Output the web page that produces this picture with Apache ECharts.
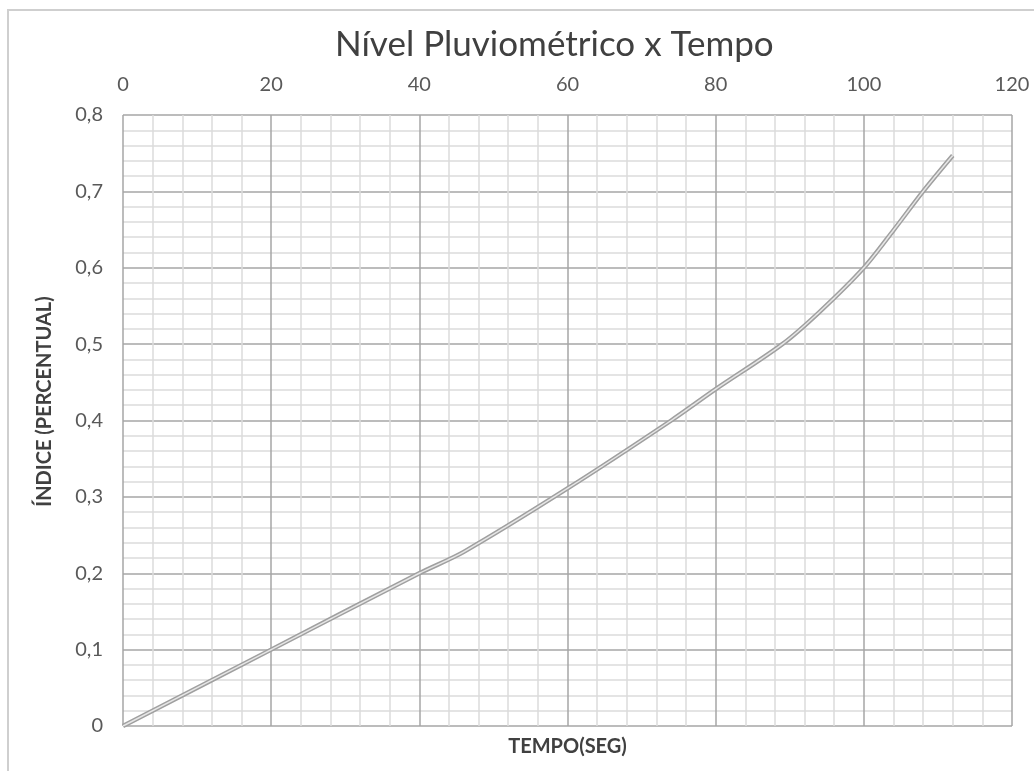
<!DOCTYPE html>
<html lang="pt">

<head>
  <meta charset="UTF-8">
  <title>Nível Pluviométrico x Tempo</title>
  <script src="https://cdn.jsdelivr.net/npm/echarts@6/dist/echarts.min.js"></script>
</head>

<body style="margin: 0; background: #fff">
  <div id="chart" style="width: 1034px; height: 771px"></div>

  <script>
    // tempo (seg) e índice
    let tempo = [0, 20, 40, 46, 60, 74, 80, 89, 94, 100, 104, 108, 112]
    let indice = [0, 0.1, 0.2, 0.228, 0.311, 0.4, 0.441, 0.5, 0.542, 0.6, 0.649, 0.7, 0.747]
    let xTicks = [0, 20, 40, 60, 80, 100, 120]
    let yTicks = [0, 0.1, 0.2, 0.3, 0.4, 0.5, 0.6, 0.7, 0.8]

    let pontos = tempo.map((t, i) => [t, indice[i]])
    let font = 'Lato, "Open Sans", sans-serif'

    let myChart = echarts.init(document.getElementById('chart'))
    let option = {
      animation: false,
      title: {
        text: 'Nível Pluviométrico x Tempo',
        left: 330,
        top: 22,
        textStyle: { fontFamily: font, fontSize: 35, fontWeight: 'normal', color: '#404040' }
      },
      graphic: [{
        type: 'rect',
        z: -10,
        shape: { x: 8, y: 10, width: 1100, height: 900 },
        style: { fill: 'none', stroke: '#cfcfcf', lineWidth: 2 }
      }],
      grid: { left: 123, right: 22, top: 115, bottom: 45 },
      xAxis: [{
        type: 'value',
        position: 'top',
        min: xTicks[0],
        max: xTicks[xTicks.length - 1],
        interval: 20,
        axisLine: { show: false },
        axisTick: { show: false },
        axisLabel: { margin: 20, fontFamily: font, fontSize: 20, color: '#595959' },
        splitLine: { lineStyle: { color: '#a6a6a6', width: 1.5 } },
        minorTick: { show: false, splitNumber: 5 },
        minorSplitLine: { show: true, lineStyle: { color: '#dcdcdc', width: 1.5 } }
      }, {
        type: 'value',
        position: 'bottom',
        min: xTicks[0],
        max: xTicks[xTicks.length - 1],
        axisLine: { show: false },
        axisTick: { show: false },
        axisLabel: { show: false },
        splitLine: { show: false },
        name: 'TEMPO(SEG)',
        nameLocation: 'middle',
        nameGap: 11,
        nameTextStyle: { fontFamily: font, fontSize: 20, fontWeight: 'bold', color: '#404040' }
      }],
      yAxis: {
        type: 'value',
        min: yTicks[0],
        max: yTicks[yTicks.length - 1],
        interval: 0.1,
        axisLine: { show: false },
        axisTick: { show: false },
        axisLabel: {
          margin: 20,
          fontFamily: font,
          fontSize: 20,
          color: '#595959',
          formatter: v => String(Math.round(v * 10) / 10).replace('.', ',')
        },
        splitLine: { lineStyle: { color: '#a6a6a6', width: 1.5 } },
        minorTick: { show: false, splitNumber: 5 },
        minorSplitLine: { show: true, lineStyle: { color: '#dcdcdc', width: 1.5 } },
        name: 'ÍNDICE (PERCENTUAL)',
        nameLocation: 'middle',
        nameGap: 68,
        nameTextStyle: { fontFamily: font, fontSize: 20, fontWeight: 'bold', color: '#404040', padding: [0, 0, 0, 38] }
      },
      series: [{
        // contorno da linha dupla
        type: 'line',
        data: pontos,
        smooth: 0.3,
        showSymbol: false,
        lineStyle: { color: '#a0a0a0', width: 4.5 },
        z: 3
      }, {
        // miolo claro
        type: 'line',
        data: pontos,
        smooth: 0.3,
        showSymbol: false,
        lineStyle: { color: '#e6e6e6', width: 1.5 },
        z: 4
      }]
    }
    myChart.setOption(option)
  </script>
</body>

</html>
